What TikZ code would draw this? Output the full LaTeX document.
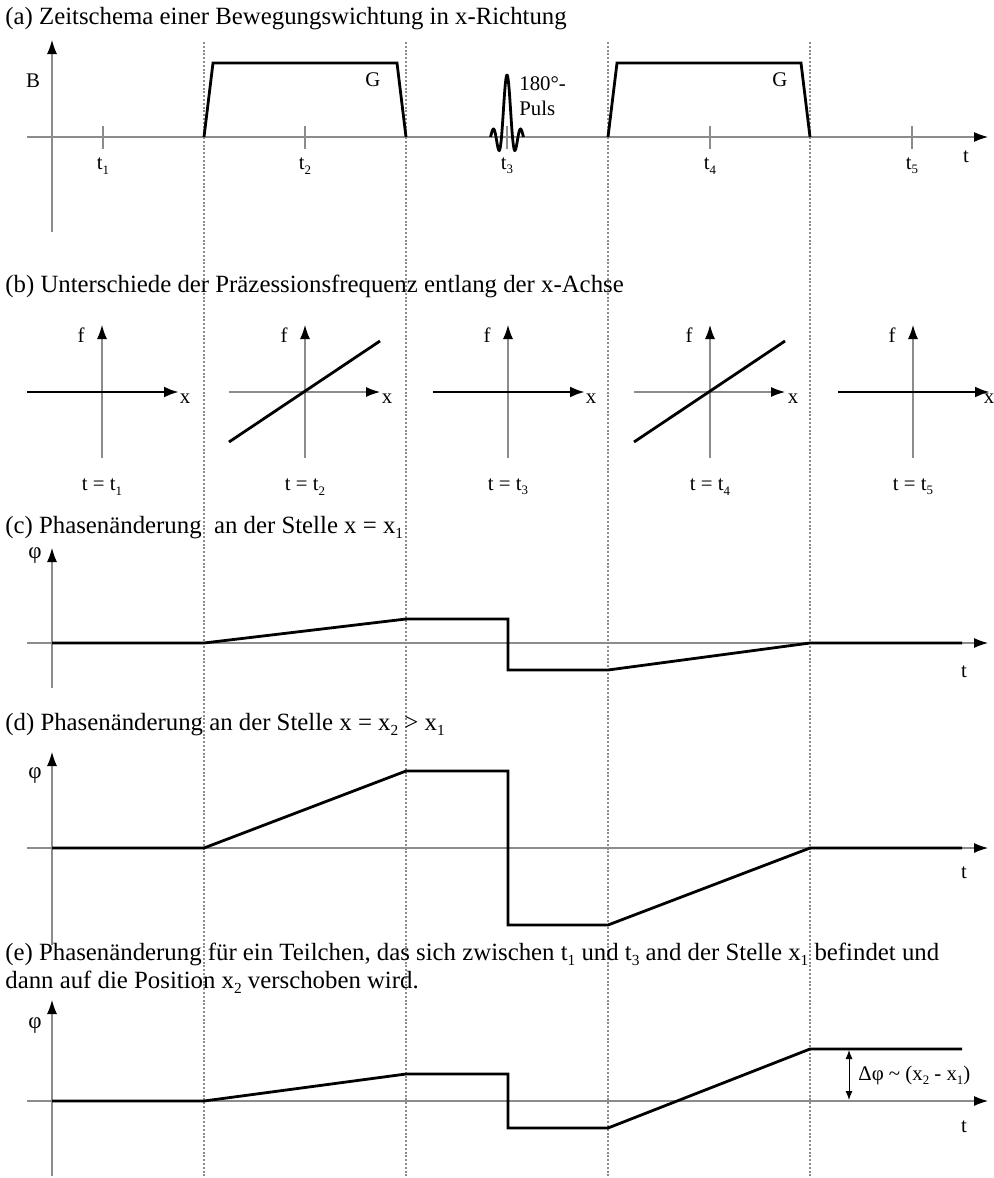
\documentclass[tikz,border=0pt]{standalone}
\usepackage{fontspec}
\setmainfont{Liberation Serif}
\usepackage{graphicx}
\usetikzlibrary{arrows.meta}
\newcommand{\tsub}[1]{\raisebox{-0.45ex}{\scalebox{0.62}{#1}}}

\begin{document}
\begin{tikzpicture}[x=0.5pt, y=-0.5pt,
  axis/.style={draw=black!45, line width=0.55pt, -{Latex[length=7pt,width=5pt,black]}},
  plain/.style={draw=black!45, line width=0.55pt},
  curve/.style={line width=1.4pt, line join=miter},
  sep/.style={draw=black!45, line width=1.1pt, dash pattern=on 1pt off 0.9pt},
  ttl/.style={anchor=base west, inner sep=0pt, font=\fontsize{12.4}{15}\selectfont},
  lbl/.style={inner sep=0pt, font=\fontsize{10.4}{12.5}\selectfont},
  phil/.style={inner sep=0pt, font=\fontsize{11.5}{13}\selectfont}]
  \useasboundingbox (0,0) rectangle (994,1178);

  % Separators
  \foreach \xx in {204,406,608,810}
    \draw[sep] (\xx,42) -- (\xx,1178);

  % (a) Time scheme
  \node[ttl] (ta) at (5,25) {(a) Zeitschema einer Bewegungswichtung in x-Richtung};
  \draw[axis] (52,232) -- (52,40);
  \draw[axis] (27,137) -- (988,137);
  \node[lbl] (ta-t) at (966,157) {t};
  \node[lbl] (lB) at (33,81) {B};
  \foreach \xx/\k in {103/1,305/2,507/3,710/4,912/5} {
    \draw[plain] (\xx,126) -- (\xx,149);
    \node[lbl] (t\k) at (\xx,166) {t\tsub{\k}};
  }
  \draw[curve] (204,137) -- (213,63) -- (397,63) -- (406,137);
  \draw[curve] (608,137) -- (617,63) -- (801,63) -- (810,137);
  \node[lbl] (g1) at (373,80) {G};
  \node[lbl] (g2) at (780,80) {G};
  \draw[curve, smooth, samples=80, domain=-9.42:9.42]
    plot ({507+1.75*\x}, {137-62*sin(\x r)/\x});
  \node[lbl, anchor=west, align=left] (puls) at (519,96) {180°-\\Puls};

  % (b) Frequency along x
  \node[ttl] (tb) at (5,292) {(b) Unterschiede der Präzessionsfrequenz entlang der x-Achse};
  \foreach \c/\k/\lx in {102/1/185,305/2/387,508/3/591,710/4/793,913/5/989} {
    \draw[axis] (\c,458) -- (\c,325);
    \node[lbl] (f\k) at (\c-21,335) {f};
    \node[lbl] (x\k) at (\lx,399) {x};
    \node[lbl] (tt\k) at (\c,487) {t = t\tsub{\k}};
  }
  \foreach \c in {102,508,913}
    \draw[curve, -{Latex[length=7.5pt,width=5.5pt]}] (\c-75,392) -- (\c+77,392);
  \foreach \c in {305,710} {
    \draw[axis] (\c-76,392) -- (\c+75,392);
    \draw[curve] (\c-76,442) -- (\c+75,341);
  }

  % (c) Phase at x1
  \node[ttl] (tc) at (5,533) {(c) Phasenänderung\ \ an der Stelle x = x\tsub{1}};
  \draw[axis] (52,688) -- (52,548);
  \draw[axis] (27,643) -- (988,643);
  \node[phil] (phic) at (35,556) {φ};
  \node[lbl] (tc-t) at (964,672) {t};
  \draw[curve] (52,643) -- (204,643) -- (406,619) -- (508,619) -- (508,670)
    -- (608,670) -- (810,643) -- (962,643);

  % (d) Phase at x2
  \node[ttl] (td) at (5,730) {(d) Phasenänderung an der Stelle x = x\tsub{2} > x\tsub{1}};
  \draw[axis] (52,945) -- (52,752);
  \draw[axis] (27,848) -- (988,848);
  \node[phil] (phid) at (35,776) {φ};
  \node[lbl] (td-t) at (964,873) {t};
  \draw[curve] (52,848) -- (204,848) -- (406,771) -- (508,771) -- (508,925)
    -- (608,925) -- (810,848) -- (962,848);

  % (e) Moving particle
  \node[ttl] (te) at (5,960) {(e) Phasenänderung für ein Teilchen, das sich zwischen t\tsub{1} und t\tsub{3} and der Stelle x\tsub{1} befindet und};
  \node[ttl] (te2) at (5,988) {dann auf die Position x\tsub{2} verschoben wird.};
  \draw[axis] (52,1176) -- (52,1000);
  \draw[axis] (27,1101) -- (988,1101);
  \node[phil] (phie) at (35,1026) {φ};
  \node[lbl] (te-t) at (964,1127) {t};
  \draw[curve] (52,1101) -- (204,1101) -- (406,1074) -- (508,1074) -- (508,1128)
    -- (608,1128) -- (810,1049) -- (962,1049);
  \coordinate (dtop) at (849,1050);
  \coordinate (dbot) at (849,1100);
  \draw[line width=0.5pt, {Latex[length=4.5pt,width=3.5pt]}-{Latex[length=4.5pt,width=3.5pt]}] (dtop) -- (dbot);
  \node[lbl, anchor=west] (dphi) at (858,1075) {Δφ \textasciitilde{} (x\tsub{2} - x\tsub{1})};
\end{tikzpicture}
\end{document}
